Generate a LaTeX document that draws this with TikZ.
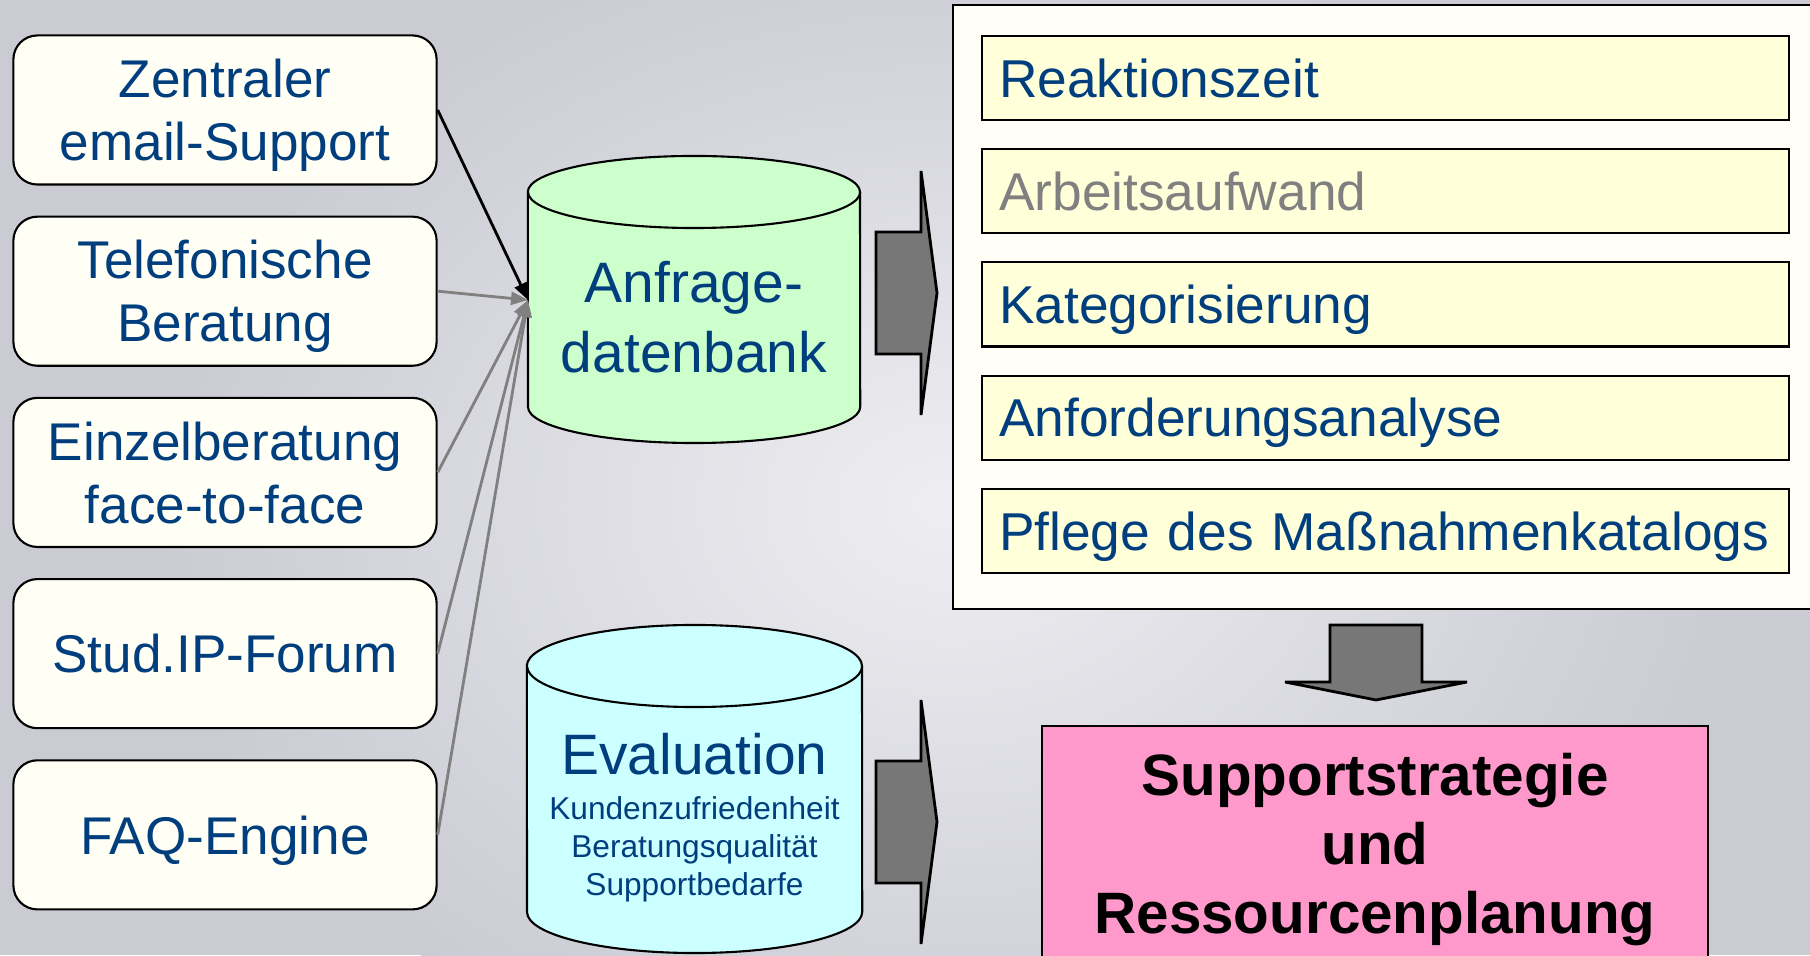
\documentclass[tikz,border=0pt]{standalone}
\usepackage{fontspec}
\setmainfont{Liberation Sans}
\usetikzlibrary{arrows.meta, positioning}
\definecolor{supportBlue}{RGB}{0, 62, 126}
\definecolor{labelGray}{RGB}{128, 128, 128}
\definecolor{arrowGray}{RGB}{128, 128, 128}
\definecolor{arrowFill}{RGB}{119, 119, 119}
\definecolor{channelIvory}{RGB}{255, 255, 245}
\definecolor{panelIvory}{RGB}{255, 255, 248}
\definecolor{taskYellow}{RGB}{255, 255, 218}
\definecolor{anfGreen}{RGB}{204, 255, 204}
\definecolor{evalCyan}{RGB}{204, 255, 255}
\definecolor{planPink}{RGB}{255, 153, 204}
\definecolor{bgGray}{RGB}{202, 203, 211}
\definecolor{bgLight}{RGB}{238, 238, 242}

\begin{document}
\begin{tikzpicture}[
    x=0.01cm, y=0.01cm,
    channel/.style={rectangle, rounded corners=0.24cm, draw=black, line width=0.6pt, fill=channelIvory, text=supportBlue, minimum width=4.23cm, minimum height=1.49cm, align=center, text depth=0pt, font=\fontsize{15.1}{17.9}\selectfont},
    task/.style={rectangle, draw=black, line width=0.6pt, fill=taskYellow, text=supportBlue, minimum height=0.84cm, text width=7.72cm, inner xsep=0.17cm, align=left, text depth=0pt, font=\fontsize{15.15}{18}\selectfont},
    dbtext/.style={text=supportBlue, align=center, text depth=0pt, font=\fontsize{16.2}{19.9}\selectfont},
    dbwall/.style={draw=black, line width=0.6pt},
    feed/.style={-{Triangle[length=0.17cm, width=0.13cm]}, line width=0.8pt, arrowGray},
    bigarrow/.style={draw=black, line width=0.8pt, fill=arrowFill}
]
    % background
    \clip (0,0) rectangle (1810,955);
    \fill[bgGray] (0,0) rectangle (1810,955);
    \shade[inner color=bgLight, outer color=bgGray] (950,450) ellipse [x radius=8cm, y radius=6cm];

    % databases
    \draw[dbwall, fill=anfGreen] (528,548) arc[start angle=180, end angle=360, x radius=1.66cm, y radius=0.36cm] -- (860,763) arc[start angle=0, end angle=180, x radius=1.66cm, y radius=0.36cm] -- cycle;
    \draw[dbwall] (528,763) arc[start angle=180, end angle=360, x radius=1.66cm, y radius=0.36cm];
    \node[dbtext] (anf) at (694,638) {Anfrage-\\datenbank};
    \coordinate (anfin) at (528,655);

    \draw[dbwall, fill=evalCyan] (527,43) arc[start angle=180, end angle=360, x radius=1.675cm, y radius=0.41cm] -- (862,289) arc[start angle=0, end angle=180, x radius=1.675cm, y radius=0.41cm] -- cycle;
    \draw[dbwall] (527,289) arc[start angle=180, end angle=360, x radius=1.675cm, y radius=0.41cm];
    \node[dbtext, anchor=base] (eval) at (694.5,180) {Evaluation};
    \node[dbtext, anchor=north, inner sep=0pt, font=\fontsize{9}{10.8}\selectfont] (evalsub) at (694.5,159) {Kundenzufriedenheit\\Beratungsqualität\\Supportbedarfe};

    % support channels
    \node[channel] (email) at (225,845) {Zentraler\\email-Support};
    \node[channel, below=0.30cm of email] (phone) {Telefonische\\Beratung};
    \node[channel, below=0.30cm of phone] (desk) {Einzelberatung\\face-to-face};
    \node[channel, below=0.30cm of desk] (forum) {Stud.IP-Forum};
    \node[channel, below=0.30cm of forum] (faq) {FAQ-Engine};

    \draw[feed, black] (email.east) -- (anfin);
    \foreach \src in {phone, desk, forum, faq}
        \draw[feed] (\src.east) -- (anfin);

    % tasks
    \node[draw=black, line width=0.6pt, fill=panelIvory, minimum width=8.70cm, minimum height=6.04cm, anchor=north west, inner sep=0pt] (panel) at (952,951) {};
    \node[task, below right=0.31cm and 0.29cm of panel.north west] (react) {Reaktionszeit};
    \node[task, below=0.27cm of react, text=labelGray] (effort) {Arbeitsaufwand};
    \node[task, below=0.27cm of effort] (categ) {Kategorisierung};
    \node[task, below=0.27cm of categ] (reqs) {Anforderungsanalyse};
    \node[task, below=0.27cm of reqs] (catalog) {\mbox{Pflege des Maßnahmenkatalogs}};

    \node[draw=black, line width=0.6pt, fill=planPink, minimum width=6.66cm, minimum height=2.35cm, anchor=north, align=center, text depth=0pt, font=\bfseries\fontsize{16.6}{19.6}\selectfont] (plan) at (1375,230) {Supportstrategie\\und\\Ressourcenplanung};

    % block arrows
    \foreach \ay in {662,133}
        \draw[bigarrow, shift={(876,\ay)}] (0,61) -- (45,61) -- (45,122) -- (61,0) -- (45,-122) -- (45,-61) -- (0,-61) -- cycle;
    \draw[bigarrow, shift={(1376,255)}] (0,0) -- (91,18) -- (46,18) -- (46,75) -- (-46,75) -- (-46,18) -- (-91,18) -- cycle;
\end{tikzpicture}
\end{document}
